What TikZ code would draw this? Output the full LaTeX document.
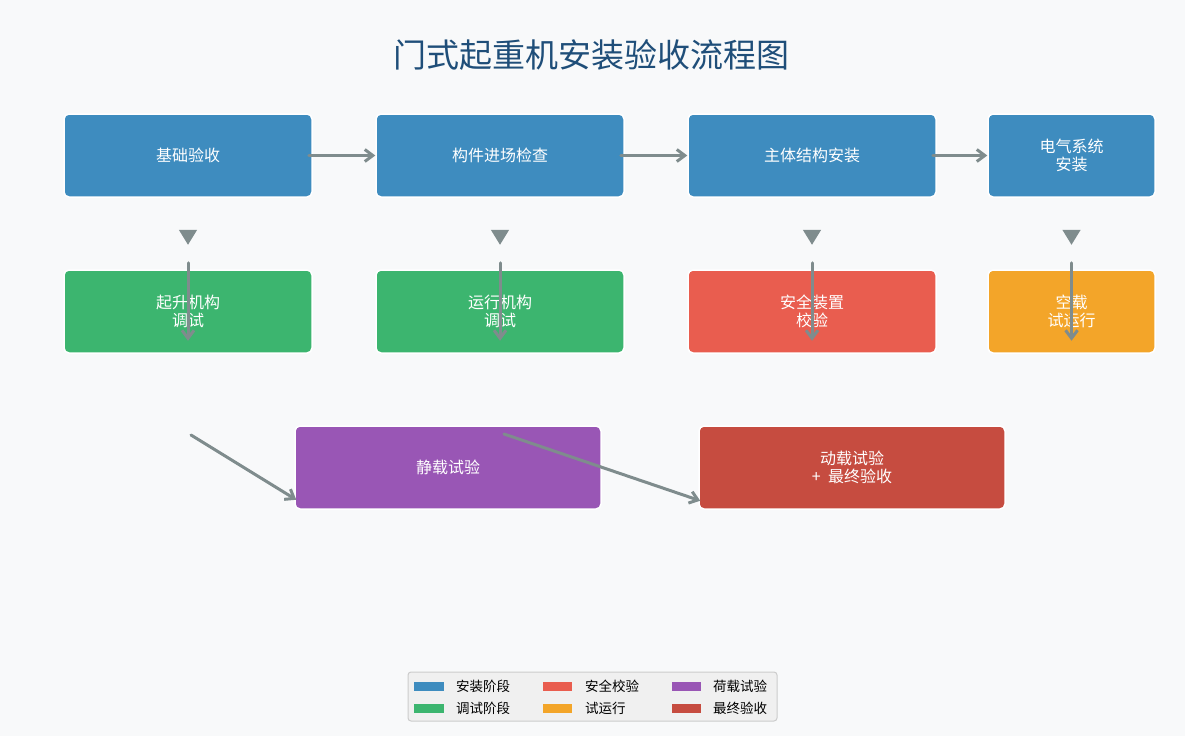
\documentclass[tikz,border=0pt]{standalone}
\usepackage{fontspec}
\setmainfont{Noto Sans CJK SC}
\usetikzlibrary{arrows.meta}
\definecolor{bg}{HTML}{F8F9FA}
\definecolor{cblue}{HTML}{3E8CBF}
\definecolor{cgreen}{HTML}{3CB56F}
\definecolor{cred}{HTML}{E95D4F}
\definecolor{corange}{HTML}{F3A529}
\definecolor{cpurple}{HTML}{9956B5}
\definecolor{cdred}{HTML}{C64C40}
\definecolor{arrowgray}{HTML}{7F8C8D}
\definecolor{titlecol}{HTML}{1F4E79}
\definecolor{legfill}{HTML}{F0F0F0}
\definecolor{legborder}{HTML}{CCCCCC}
\tikzset{
  box/.style={draw=white, line width=1.5pt, rounded corners=5pt, text=white,
    minimum width=248pt, minimum height=83pt, align=center, inner sep=0pt,
    font=\fontsize{16}{18.5}\selectfont},
  arr/.style={draw=arrowgray, line width=3pt, line cap=round,
    -{Straight Barb[length=8pt,width=12pt]}},
  tri/.style={fill=arrowgray},
  legtext/.style={anchor=west, inner sep=0pt, font=\fontsize{13.5}{16}\selectfont, text=black},
}
\begin{document}
\begin{tikzpicture}[x=1pt,y=-1pt]
\useasboundingbox (0,0) rectangle (1185,736);
\fill[bg] (0,0) rectangle (1185,736);

\node[text=titlecol, font=\fontsize{33}{36}\selectfont] (title) at (591,55) {门式起重机安装验收流程图};

% row 1
\node[box, fill=cblue] (b1) at (188,155.5) {基础验收};
\node[box, fill=cblue] (b2) at (500,155.5) {构件进场检查};
\node[box, fill=cblue] (b3) at (812,155.5) {主体结构安装};
\node[box, fill=cblue, minimum width=167pt] (b4) at (1071.5,155.5) {电气系统\\安装};
% row 2
\node[box, fill=cgreen] (g1) at (188,311.5) {起升机构\\调试};
\node[box, fill=cgreen] (g2) at (500,311.5) {运行机构\\调试};
\node[box, fill=cred] (r1) at (812,311.5) {安全装置\\校验};
\node[box, fill=corange, minimum width=167pt] (o1) at (1071.5,311.5) {空载\\试运行};
% row 3
\node[box, fill=cpurple, minimum width=306pt] (p) at (448,467.5) {静载试验};
\node[box, fill=cdred, minimum width=306pt] (d) at (852,467.5) {动载试验\\+\ \ 最终验收};

% horizontal arrows
\draw[arr] ([xshift=-4pt]b1.east) -- (b2.west);
\draw[arr] ([xshift=-4pt]b2.east) -- (b3.west);
\draw[arr] ([xshift=-4pt]b3.east) -- (b4.west);

% triangles
\foreach \n in {b1,b2,b3,b4}{
  \fill[tri] ([xshift=-9.2pt,yshift=-32pt]\n.south) -- ++(18.4,0) -- ++(-9.2,15) -- cycle;
}
% vertical arrows
\draw[arr] ([yshift=-65pt]b1.south) -- ([yshift=13pt]g1.south);
\draw[arr] ([yshift=-65pt]b2.south) -- ([yshift=13pt]g2.south);
\draw[arr] ([yshift=-65pt]b3.south) -- ([yshift=13pt]r1.south);
\draw[arr] ([yshift=-65pt]b4.south) -- ([yshift=13pt]o1.south);

% diagonal arrows
\coordinate (s1) at (191,435);
\coordinate (s2) at (504,434);
\draw[arr] (s1) -- ([xshift=2pt,yshift=10pt]p.south west);
\draw[arr] (s2) -- ([xshift=2pt,yshift=9pt]d.south west);

% legend
\node[draw=legborder, fill=legfill, line width=1pt, rounded corners=3pt,
  minimum width=369pt, minimum height=49pt, inner sep=0pt] (leg) at (592.5,696.5) {};
\fill[cblue] (414,681.5) rectangle (444,690.5);
\fill[cgreen] (414,703.5) rectangle (444,712.5);
\fill[cred] (543,681.5) rectangle (572,690.5);
\fill[corange] (543,703.5) rectangle (572,712.5);
\fill[cpurple] (671.5,681.5) rectangle (700.5,690.5);
\fill[cdred] (671.5,703.5) rectangle (700.5,712.5);
\node[legtext] (l1) at (456,686) {安装阶段};
\node[legtext] (l2) at (456,708) {调试阶段};
\node[legtext] (l3) at (585,686) {安全校验};
\node[legtext] (l4) at (585,708.5) {试运行};
\node[legtext] (l5) at (713,686) {荷载试验};
\node[legtext] (l6) at (713,708) {最终验收};
\end{tikzpicture}
\end{document}
